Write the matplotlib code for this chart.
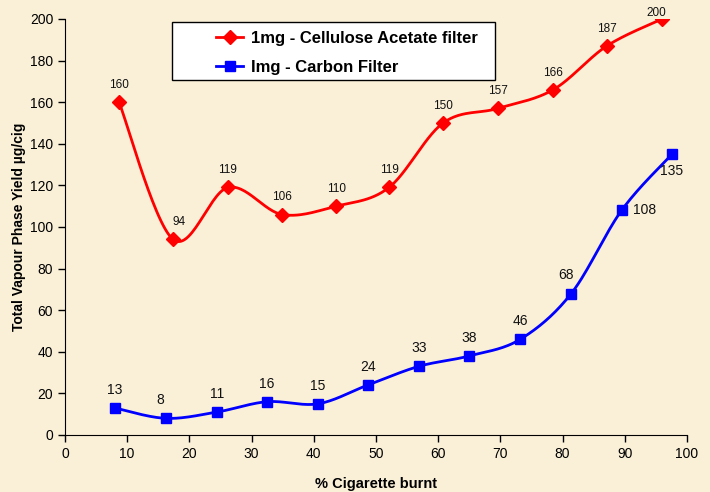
import numpy as np
import matplotlib.pyplot as plt
from matplotlib.patches import Rectangle

plt.rcParams['font.family'] = ['Liberation Sans', 'DejaVu Sans']

# % of cigarette burnt at each puff, and total vapour phase yield (ug/cig)
acetate_x = [8.7, 17.4, 26.2, 34.9, 43.6, 52.1, 60.8, 69.6, 78.5, 87.1, 96.0]
acetate_y = [160, 94, 119, 106, 110, 119, 150, 157, 166, 187, 200]
carbon_x = [8.0, 16.2, 24.4, 32.5, 40.7, 48.7, 56.9, 65.0, 73.2, 81.4, 89.5, 97.6]
carbon_y = [13, 8, 11, 16, 15, 24, 33, 38, 46, 68, 108, 135]

acetate_name = "1mg - Cellulose Acetate filter"
carbon_name = "Img - Carbon Filter"

BG = "#FAF0D8"


def smooth_curve(ax, xs, ys, n=30):
    # Bezier smoothing (Catmull-Rom style) done in screen space
    pts = ax.transData.transform(np.column_stack([xs, ys]))
    p = np.vstack([pts[0], pts, pts[-1]])
    out = []
    t = np.linspace(0, 1, n)[:, None]
    for i in range(1, len(p) - 2):
        p0, p3 = p[i], p[i + 1]
        c1 = p0 + (p[i + 1] - p[i - 1]) / 6
        c2 = p3 - (p[i + 2] - p[i]) / 6
        seg = ((1 - t) ** 3) * p0 + 3 * ((1 - t) ** 2) * t * c1 + 3 * (1 - t) * t ** 2 * c2 + t ** 3 * p3
        out.append(seg)
    out = np.vstack(out)
    data = ax.transData.inverted().transform(out)
    return data[:, 0], data[:, 1]


fig = plt.figure(figsize=(7.1, 4.92), dpi=100, facecolor=BG)
ax = fig.add_axes([0.0915, 0.1159, 0.876, 0.8455])
ax.set_facecolor(BG)
ax.set_xlim(0, 100)
ax.set_ylim(0, 200)

for xs, ys, col, mk, ms, name in [
    (acetate_x, acetate_y, "#FF0000", "D", 7.5, acetate_name),
    (carbon_x, carbon_y, "#0000FF", "s", 7.5, carbon_name),
]:
    sx, sy = smooth_curve(ax, xs, ys)
    ax.plot(sx, sy, color=col, lw=2.0, zorder=3)
    ax.plot(xs, ys, ls="none", marker=mk, ms=ms, color=col, zorder=4)
    ax.plot([], [], color=col, lw=2.0, marker=mk, ms=ms, label=name)

# value labels
for i, (x, y) in enumerate(zip(acetate_x, acetate_y)):
    dx, dy, va = 0, 8, "bottom"
    if i == 1:
        dx = 4
    if i == len(acetate_x) - 1:
        dx, dy, va = -4, 4.5, "center"
    ax.annotate(str(y), (x, y), xytext=(dx, dy), textcoords="offset points",
                ha="center", va=va, fontsize=8.5, color="#111111")

for i, (x, y) in enumerate(zip(carbon_x, carbon_y)):
    dx, dy, va, ha = 0, 8, "bottom", "center"
    if y == 108:
        dx, dy, va, ha = 8, 0, "center", "left"
    elif y == 135:
        dx, dy, va = 0, -7, "top"
    elif i in (1, 9):
        dx = -4
    ax.annotate(str(y), (x, y), xytext=(dx, dy), textcoords="offset points",
                ha=ha, va=va, fontsize=10, color="#111111")

# legend box
ax.add_patch(Rectangle((0.172, 0.853), 0.519, 0.14, transform=ax.transAxes,
                       facecolor="white", edgecolor="black", lw=1.0, zorder=5))
leg = ax.legend(loc="center left", bbox_to_anchor=(0.230, 0.919), frameon=False,
                handlelength=1.6, handletextpad=0.5, labelspacing=0.85,
                borderpad=0, prop={"weight": "bold", "size": 12})
leg.set_zorder(6)

ax.spines["top"].set_visible(False)
ax.spines["right"].set_visible(False)
ax.set_xticks(range(0, 101, 10))
ax.set_yticks(range(0, 201, 20))
ax.tick_params(direction="out", length=5, width=1, labelsize=10, colors="black")
ax.set_xlabel("% Cigarette burnt", fontsize=10.5, fontweight="bold", labelpad=12)
ax.set_ylabel("Total Vapour Phase Yield µg/cig", fontsize=10, fontweight="bold", labelpad=3)

fig.savefig("out.png", dpi=100, facecolor=BG)
